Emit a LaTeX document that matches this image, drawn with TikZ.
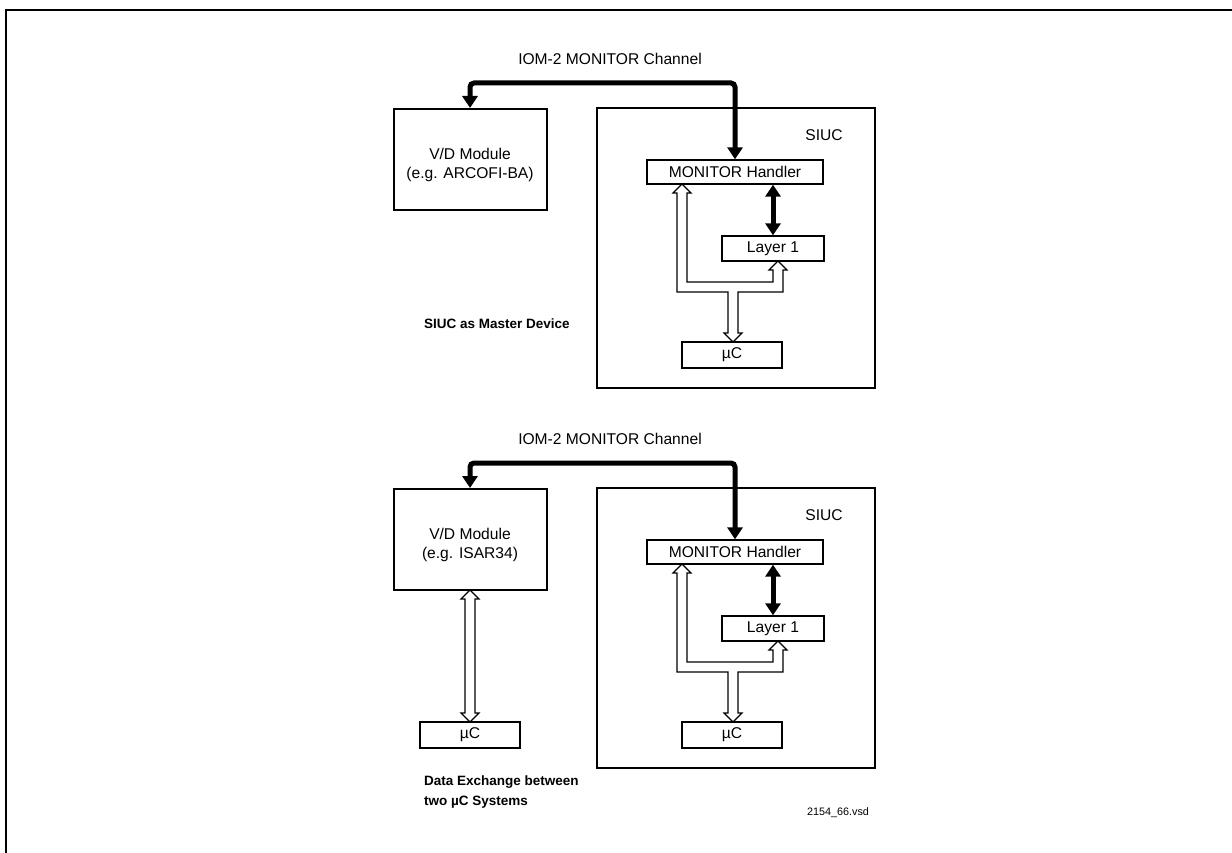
\documentclass[tikz,border=0pt]{standalone}
\usepackage{fontspec}
\setmainfont{Liberation Sans}
\usetikzlibrary{arrows.meta,calc}
\tikzset{
  regfont/.style={font=\fontsize{15.6}{19}\selectfont},
  box/.style={draw, line width=1.3pt, align=center, inner sep=0pt, regfont},
  bigbox/.style={box, line width=2pt},
  ucbox/.style={box, line width=2.4pt, minimum width=100pt, minimum height=26pt},
  thickarrow/.style={line width=5pt, rounded corners=4pt,
    {Triangle[length=12pt,width=15pt]}-{Triangle[length=12pt,width=15pt]}},
  hollow/.style={draw, line width=1.1pt, fill=white, line join=miter},
  lbl/.style={inner sep=0pt, align=center, regfont},
  boldlbl/.style={inner sep=0pt, align=left, font=\bfseries\fontsize{13.5}{20}\selectfont},
}
\newcommand\siucblock[3]{%
\begin{scope}[shift={(0,#2)}]
  \node[lbl] (#1iom) at (610,59) {IOM-2 MONITOR Channel};
  \node[bigbox, minimum width=153pt, minimum height=101pt] (#1vd) at (470,159.5) {};
  \node[lbl] (#1vdtxt) at (470,165) {V/D Module\\(e.g. #3)};
  \node[bigbox, minimum width=278pt, minimum height=280pt] (#1siuc) at (736,248) {};
  \node[lbl] (#1siuclbl) at (824,135) {SIUC};
  \node[box, minimum width=176pt, minimum height=24pt] (#1mh) at (735,172) {MONITOR Handler};
  \node[box, minimum width=102pt, minimum height=25pt] (#1l1) at (773,248.5) {Layer 1};
  \node[ucbox] (#1uc) at (732,355) {µC};
  \coordinate (#1cl) at (470,83);
  \coordinate (#1cr) at (735,83);
  \draw[thickarrow] (#1vd.north) -- (#1cl) -- (#1cr) -- (#1mh.north);
  \draw[thickarrow] (#1mh.south -| #1l1.north) -- (#1l1.north);
  \path[hollow] (682,184) -- (691,193) -- (687,193) -- (687,282) -- (773,282)
    -- (773,270) -- (769,270) -- (778,261) -- (787,270) -- (783,270) -- (783,292)
    -- (738,292) -- (738,333) -- (742,333) -- (733,342) -- (724,333) -- (728,333)
    -- (728,292) -- (677,292) -- (677,193) -- (673,193) -- cycle;
\end{scope}}
\begin{document}
\begin{tikzpicture}[x=1pt,y=-1pt]
  \useasboundingbox (0,0) rectangle (1232,853);
  \fill[white] (0,0) rectangle (1232,853);
  \draw[line width=2pt] (6,853) -- (6,10) -- (1232,10);
  \siucblock{t}{0}{ARCOFI-BA}
  \siucblock{b}{380}{ISAR34}
  \node[boldlbl, anchor=west] (tcap) at (424,324) {SIUC as Master Device};
  \begin{scope}[shift={(0,380)}]
    \node[ucbox] (buc2) at (470,355) {µC};
    \path[hollow] (470,210) -- (479,219) -- (475,219) -- (475,333) -- (479,333)
      -- (470,342) -- (461,333) -- (465,333) -- (465,219) -- (461,219) -- cycle;
  \end{scope}
  \node[boldlbl, anchor=west] (bcap) at (424,792) {Data Exchange between\\two µC Systems};
  \node[inner sep=0pt, font=\fontsize{10.8}{13}\selectfont] (file) at (838,813) {2154\_66.vsd};
\end{tikzpicture}
\end{document}
